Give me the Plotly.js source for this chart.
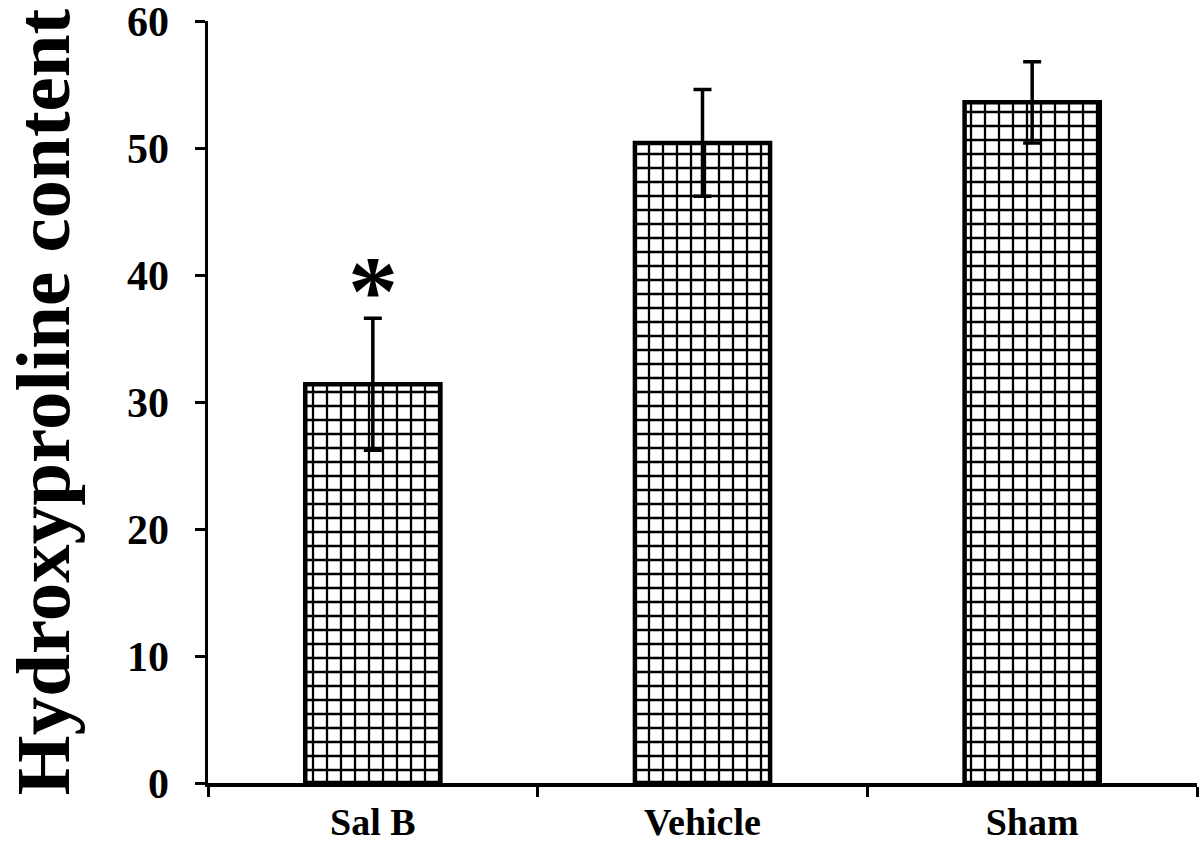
<!DOCTYPE html>
<html>
<head>
<meta charset="utf-8">
<script src="https://cdn.plot.ly/plotly-3.0.1.min.js"></script>
<style>html,body{margin:0;padding:0;background:#fff;}#chart{width:1200px;height:848px;}</style>
</head>
<body>
<div id="chart"></div>
<script>
const categories = ["Sal B", "Vehicle", "Sham"];
const values = [31.4, 50.4, 53.6];
const errors = [5.2, 4.2, 3.2];
const significance = ["*", "", ""];
const yTicks = [0, 10, 20, 30, 40, 50, 60];
const yTitle = "Hydroxyproline content";

const serif = "Liberation Serif, Times New Roman, serif";

const trace = {
  type: "bar",
  x: categories,
  y: values,
  width: 0.41,
  marker: {
    color: "#ffffff",
    line: {color: "#000000", width: 4.5},
    pattern: {shape: "+", size: 14, solidity: 0.3, fgcolor: "#000000", bgcolor: "#ffffff", fillmode: "replace"}
  },
  error_y: {type: "data", array: errors, visible: true, color: "#000000", thickness: 3.5, width: 9},
  hoverinfo: "none"
};

const annotations = categories.map((c, i) => ({
  x: c, y: values[i] + errors[i], xref: "x", yref: "y",
  text: significance[i], showarrow: false,
  yanchor: "bottom", yshift: -30,
  font: {family: serif, size: 100, color: "#000", weight: "bold"}
})).filter(a => a.text);

const layout = {
  width: 1200, height: 848,
  margin: {l: 208, r: 3, t: 21, b: 65},
  paper_bgcolor: "#fff", plot_bgcolor: "#fff",
  showlegend: false,
  xaxis: {
    type: "category",
    range: [-0.5, 2.5],
    showline: true, linecolor: "#000", linewidth: 3.5,
    ticks: "outside", tickson: "boundaries", ticklen: 10, tickwidth: 3, tickcolor: "#000",
    ticklabelstandoff: 3,
    tickfont: {family: serif, size: 38, color: "#000", weight: "bold"},
    showgrid: false, zeroline: false
  },
  yaxis: {
    range: [0, 60],
    tickvals: yTicks,
    showline: true, linecolor: "#000", linewidth: 3.5,
    ticks: "outside", ticklen: 10, tickwidth: 3, tickcolor: "#000",
    ticklabelstandoff: 17,
    ticklabeloverflow: "allow",
    tickfont: {family: serif, size: 42, color: "#000", weight: "bold"},
    showgrid: false, zeroline: false,
    title: {text: yTitle, font: {family: serif, size: 77, color: "#000", weight: "bold"}, standoff: 56}
  },
  annotations: annotations
};

Plotly.newPlot("chart", [trace], layout, {staticPlot: true, displayModeBar: false});
</script>
</body>
</html>
